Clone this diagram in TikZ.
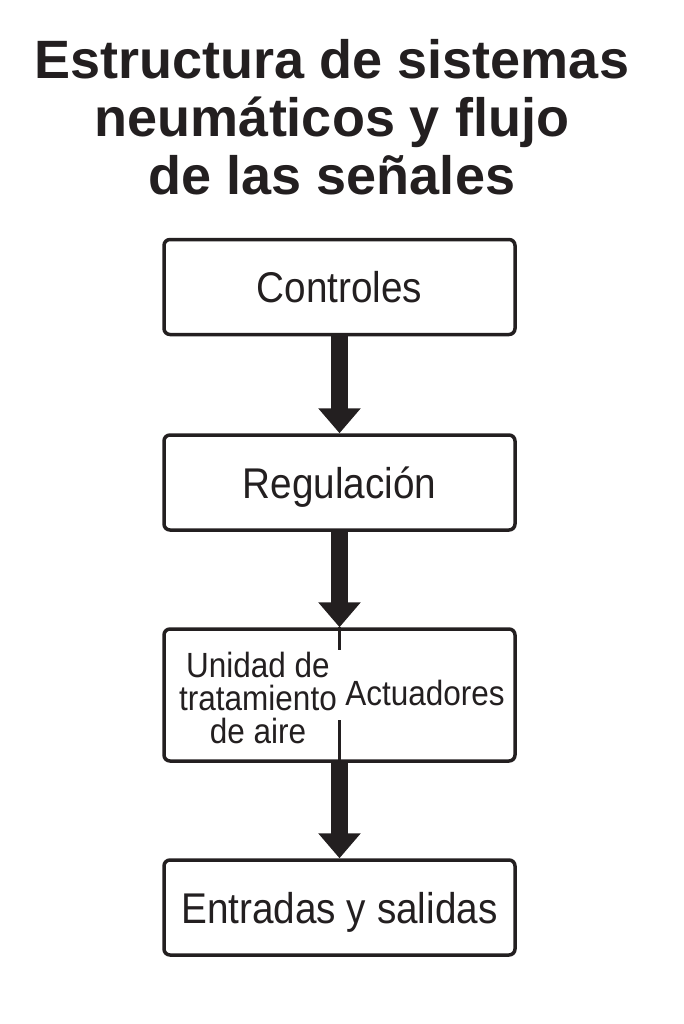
\documentclass[tikz,border=0pt]{standalone}
\usepackage{fontspec}
\setmainfont{Liberation Sans}
\newfontfamily\boxfont{Liberation Sans}[FakeStretch=0.9]
\usepackage{tikz}
\usetikzlibrary{arrows.meta}
\definecolor{ink}{RGB}{35,31,32}

\tikzset{
    stage/.style={draw=ink, line width=3.5pt, rounded corners=6pt,
        minimum width=351pt, minimum height=95pt, inner sep=0pt,
        text=ink, text height=31pt, text depth=0pt,
        font=\boxfont\fontsize{43}{43}\selectfont},
    flow/.style={draw=ink, line width=17pt,
        -{Triangle[width=41pt, length=25pt]}},
    divider/.style={draw=ink, line width=2.5pt},
    small/.style={text=ink, inner sep=0pt, align=center,
        font=\boxfont\fontsize{35}{33}\selectfont}
}

\begin{document}
\begin{tikzpicture}[x=1pt, y=-1pt]
        \useasboundingbox (0,0) rectangle (683,1024);

        % Title
        \node (title) [anchor=north, inner sep=0pt, align=center, text=ink,
            font=\bfseries\fontsize{54}{58}\selectfont] at (332,39)
            {Estructura de sistemas\\neumáticos y flujo\\de las señales};

        % Stages
        \node (ctrl) [stage] at (339.5,287) {Controles};
        \node (reg) [stage] at (339.5,482.5) {Regulación};
        \node (act) [stage, minimum height=132pt] at (339.5,695) {};
        \node (io) [stage] at (339.5,907.5) {Entradas y salidas};

        % Inside the third stage
        \node (air) [small, anchor=north] at (258,651.5)
            {Unidad de\\tratamiento\\de aire};
        \node (actr) [small, anchor=base] at (425,705) {Actuadores};
        \draw[divider] (act.north) -- ++(0,23);
        \draw[divider] (act.south) -- ++(0,-43);

        % Signal flow
        \draw[flow] (ctrl.south) -- (reg.north);
        \draw[flow] (reg.south) -- (act.north);
        \draw[flow] (act.south) -- (io.north);
    \end{tikzpicture}
\end{document}
